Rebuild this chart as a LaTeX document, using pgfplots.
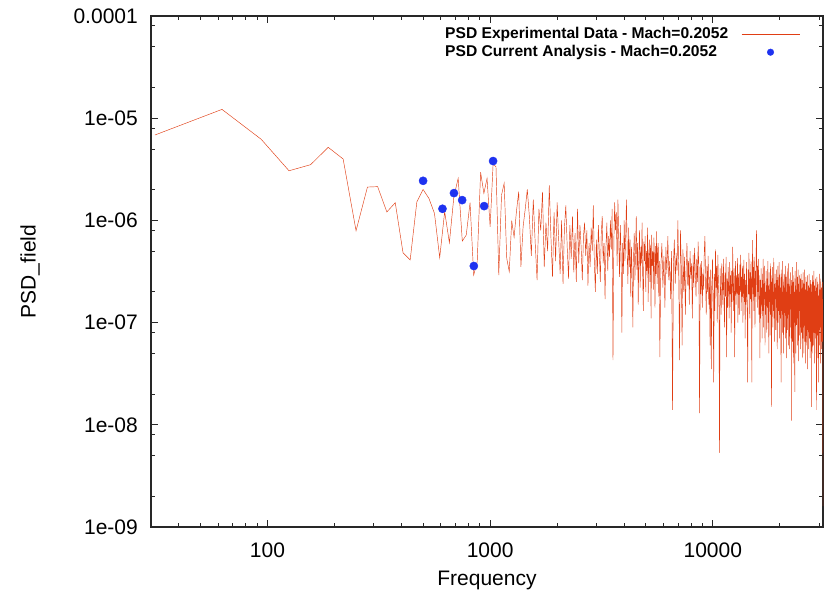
\documentclass[border=0pt]{standalone}
\usepackage{pgfplots}
\pgfplotsset{compat=1.18}
\usepackage{pgfplotstable}
\usepackage{fontspec}
\setmainfont{Liberation Sans}
\definecolor{psdred}{RGB}{224,62,20}
\definecolor{psdblue}{RGB}{30,50,240}
\definecolor{axgray}{RGB}{40,40,40}
\pgfplotsset{
  leglinelong/.style={legend image code/.code={\draw[##1] (0pt,0pt) -- (58pt,0pt);}},
  legdot/.style={legend image code/.code={\draw[##1, mark size=3.3pt] plot coordinates {(29pt,0pt)};}},
}

% experimental PSD: bin index k (f = 31.25 k Hz) and PSD value
\pgfplotstableread{
k psd
1 6.85e-6
2 1.22e-5
3 6.22e-6
4 3.06e-6
5 3.51e-6
6 5.19e-6
7 3.99e-6
8 7.93e-7
9 2.12e-6
10 2.14e-6
11 1.21e-6
12 1.49e-6
13 4.83e-7
14 4.10e-7
15 1.52e-6
16 2.01e-6
17 1.64e-6
18 1.17e-6
19 4.32e-7
20 1.22e-6
21 6.05e-7
22 1.71e-6
23 2.58e-6
24 6.28e-7
25 7.19e-7
26 1.49e-6
27 2.92e-7
28 3.95e-7
29 2.96e-6
30 1.84e-6
31 2.58e-6
32 8.67e-7
33 3.56e-6
34 3.35e-6
35 2.92e-7
36 1.77e-6
37 2.31e-6
38 4.26e-7
39 3.15e-7
40 9.93e-7
41 6.84e-7
42 1.22e-6
43 1.91e-6
44 3.52e-7
45 8.67e-7
46 1.29e-6
47 2.01e-6
48 1.1e-6
49 4.5e-7
50 1.6e-6
51 6.0e-7
52 2.6e-7
53 1.3e-6
54 8.0e-7
55 1.9e-6
56 3.5e-7
57 9.5e-7
58 5.0e-7
59 2.2e-6
60 7.0e-7
61 2.8e-7
62 1.2e-6
63 4.0e-7
64 1.5e-6
65 6.5e-7
66 3.0e-7
67 1.0e-6
68 2.4e-7
69 8.5e-7
70 1.4e-6
71 5.5e-7
72 2.7e-7
73 9.0e-7
74 4.2e-7
75 1.1e-6
76 3.1e-7
77 7.5e-7
78 2.5e-7
79 1.3e-6
80 3.8e-7
81 9.0e-7
82 5.5e-7
83 2.6e-7
84 7.0e-7
85 9.5e-7
86 4.5e-7
87 8.0e-7
88 2.3e-7
89 6.0e-7
90 3.5e-7
91 8.5e-7
92 5.0e-7
93 1.4e-6
94 4.0e-7
95 2.0e-7
96 6.5e-7
97 3.0e-7
98 9.0e-7
99 4.8e-7
100 2.5e-7
101 7.5e-7
102 1.1e-6
103 3.8e-7
104 6.0e-7
105 1.7e-7
106 5.5e-7
107 9.5e-7
108 3.2e-7
109 7.0e-7
110 4.4e-7
111 1.0e-6
112 5.2e-7
113 1.3e-6
114 4.3e-8
115 6.0e-7
116 1.5e-6
117 8.0e-7
118 1.2e-6
119 3.6e-7
120 1.6e-6
121 6.5e-7
122 2.8e-7
123 9.0e-7
124 4.5e-7
125 8.0e-8
126 6.0e-7
127 3.0e-7
128 1.0e-6
129 4.0e-7
130 7.0e-7
131 1.6e-6
132 5.0e-7
133 2.4e-7
134 8.5e-7
135 3.5e-7
136 6.5e-7
137 1.8e-7
138 5.5e-7
139 3.0e-7
140 9.0e-8
141 4.2e-7
142 7.5e-7
143 2.6e-7
144 5.0e-7
145 1.1e-6
146 3.3e-7
147 6.0e-7
148 1.5e-7
149 4.6e-7
150 8.0e-7
151 2.2e-7
152 5.5e-7
153 3.8e-7
154 9.5e-7
155 2.9e-7
156 1.3e-7
157 6.2e-7
158 4.0e-7
159 7.0e-7
160 2.0e-7
161 5.0e-7
162 3.2e-7
163 8.5e-7
164 1.6e-7
165 4.5e-7
166 6.5e-7
167 2.5e-7
168 5.8e-7
169 1.1e-7
170 7.2e-7
171 3.6e-7
172 5.0e-7
173 2.1e-7
174 6.8e-7
175 4.2e-7
176 1.4e-7
177 5.6e-7
178 3.0e-7
179 7.8e-7
180 2.4e-7
181 4.8e-7
182 6.0e-7
183 1.8e-7
184 4.0e-7
185 4.6e-8
187 3.5e-7
189 6.0e-7
191 2.2e-7
193 4.5e-7
195 1.4e-7
197 5.5e-7
199 3.0e-7
201 7.0e-7
203 2.6e-7
205 4.0e-7
207 1.7e-7
209 5.0e-7
211 1.4e-8
213 3.8e-7
215 6.5e-7
217 2.4e-7
219 4.8e-7
221 3.2e-7
223 1.0e-6
225 2.8e-7
227 4.3e-8
229 8.0e-7
231 3.6e-7
233 6.0e-8
235 5.2e-7
237 2.0e-7
239 4.4e-7
241 1.2e-7
243 3.4e-7
245 6.0e-7
247 2.3e-7
249 4.0e-7
251 1.5e-7
253 5.0e-7
255 2.7e-7
257 3.8e-7
259 1.1e-7
261 4.6e-7
263 2.2e-7
265 5.4e-7
267 3.0e-7
269 1.8e-7
271 4.2e-7
273 2.5e-7
275 6.2e-7
277 3.3e-7
279 1.3e-8
281 3.8e-7
283 1.9e-7
285 4.0e-7
287 1.4e-7
289 3.0e-7
291 2.1e-7
293 5.0e-7
295 7.0e-7
297 2.5e-7
299 1.2e-7
301 3.6e-7
303 2.0e-7
305 4.5e-7
307 1.5e-7
309 2.8e-7
311 6.0e-8
313 3.3e-7
315 3.5e-8
317 2.4e-7
319 4.2e-7
321 1.7e-7
323 2.6e-8
325 3.0e-7
327 1.3e-7
329 5.2e-7
331 2.2e-7
333 3.6e-7
335 1.0e-7
337 4.6e-7
339 2.6e-7
341 1.6e-7
343 5.3e-9
345 3.4e-7
347 2.0e-7
349 1.2e-7
351 3.8e-7
353 2.4e-7
355 1.5e-7
357 4.2e-7
359 2.0e-7
361 9.0e-8
363 3.1e-7
365 1.8e-7
367 4.4e-7
369 4.6e-8
371 2.7e-7
373 1.4e-7
375 3.5e-7
377 2.2e-7
379 1.1e-7
381 3.9e-7
383 1.9e-7
385 2.9e-7
387 8.0e-8
389 3.2e-7
391 1.6e-7
393 5.5e-7
395 2.4e-7
397 1.3e-7
399 3.4e-7
401 4.6e-8
403 2.6e-7
405 4.0e-7
407 1.5e-7
409 2.9e-7
411 1.9e-7
413 4.3e-7
415 1.0e-7
417 3.0e-7
419 2.1e-7
421 1.2e-7
423 3.7e-7
425 2.0e-7
427 4.6e-7
429 1.3e-7
431 2.8e-7
433 1.8e-7
435 3.6e-7
437 1.0e-7
439 2.4e-7
441 4.1e-7
443 1.6e-7
445 3.0e-7
447 7.0e-8
449 2.6e-7
451 1.5e-7
453 3.9e-7
455 2.1e-7
457 1.2e-7
459 2.6e-8
461 3.3e-7
463 1.9e-7
465 4.8e-7
467 2.3e-7
469 1.1e-7
471 3.1e-7
473 1.7e-7
475 4.0e-7
477 2.2e-7
479 2.6e-8
481 2.8e-7
483 6.4e-7
485 1.9e-7
487 3.5e-7
489 1.3e-7
491 4.4e-7
493 2.4e-7
495 9.0e-8
497 3.2e-7
499 1.8e-7
501 5.0e-7
503 8.0e-7
505 2.5e-7
507 1.4e-7
509 3.6e-7
511 2.0e-7
513 4.2e-7
515 1.2e-7
517 2.9e-7
519 1.7e-7
521 4.5e-8
523 2.6e-7
525 1.1e-7
527 3.4e-7
529 1.5e-7
531 2.2e-7
533 7.0e-8
535 3.0e-7
537 1.3e-7
539 4.2e-7
541 9.0e-8
543 2.4e-7
545 1.7e-7
547 3.6e-7
549 6.0e-8
551 2.0e-7
553 1.2e-7
555 3.2e-7
557 1.9e-7
559 8.0e-8
561 2.7e-7
563 1.4e-7
565 4.0e-7
567 1.0e-7
569 2.3e-7
571 5.0e-8
573 3.1e-7
575 1.6e-7
577 2.1e-7
579 7.5e-8
581 3.8e-7
583 1.2e-7
585 2.5e-7
587 1.5e-8
589 2.9e-7
591 1.5e-7
593 3.5e-7
595 9.0e-8
597 2.0e-7
599 1.3e-7
601 4.3e-7
603 1.1e-7
605 2.4e-7
607 6.5e-8
609 3.0e-7
611 1.7e-7
613 2.2e-7
615 8.5e-8
617 3.3e-7
619 1.4e-7
621 2.6e-7
623 5.5e-8
625 1.9e-7
627 3.6e-7
629 1.0e-7
631 2.3e-7
633 1.3e-7
635 3.9e-7
637 7.0e-8
639 2.1e-7
641 3.0e-7
643 1.1e-7
645 2.2e-7
647 6.0e-8
649 2.6e-8
651 3.3e-7
653 1.4e-7
655 2.0e-7
657 8.0e-8
659 4.0e-7
661 1.2e-7
663 2.5e-7
665 5.0e-8
667 1.8e-7
669 3.0e-7
671 9.0e-8
673 2.2e-7
675 1.3e-7
677 3.6e-7
679 7.0e-8
681 1.6e-7
683 2.8e-7
685 4.5e-8
687 2.0e-7
689 1.1e-7
691 3.4e-7
693 8.5e-8
695 1.7e-7
697 2.4e-7
699 6.0e-8
701 3.8e-7
703 1.2e-7
705 2.0e-7
707 5.5e-8
709 2.7e-7
711 1.4e-7
713 3.1e-7
715 9.0e-8
717 1.9e-7
719 7.0e-8
721 2.6e-7
723 1.1e-8
725 2.3e-7
727 1.0e-7
729 3.5e-7
731 6.5e-8
733 1.6e-7
735 2.5e-7
737 4.0e-8
739 2.9e-7
741 1.2e-7
743 2.0e-7
745 8.0e-8
747 2.1e-8
749 3.2e-7
751 1.3e-7
753 2.3e-7
755 5.0e-8
757 1.7e-7
759 3.9e-7
761 9.5e-8
763 2.1e-7
765 1.1e-7
767 2.8e-7
769 6.0e-8
771 1.8e-7
773 3.3e-7
775 1.0e-7
777 4.2e-8
779 2.4e-7
781 1.3e-7
783 2.9e-7
785 7.5e-8
787 2.0e-7
789 9.0e-8
791 2.7e-7
793 5.5e-8
795 1.5e-7
797 3.0e-7
799 8.0e-8
801 1.8e-7
803 1.1e-7
805 2.6e-7
807 4.5e-8
809 1.6e-7
811 2.2e-7
813 7.0e-8
815 3.1e-7
817 1.0e-7
819 1.7e-7
821 5.0e-8
823 2.4e-7
825 1.2e-7
827 3.3e-7
829 6.5e-8
831 1.4e-7
833 2.1e-7
835 4.0e-8
837 2.8e-7
839 9.5e-8
841 1.6e-7
843 6.0e-8
845 2.5e-7
847 1.1e-7
849 1.9e-7
851 3.5e-8
853 2.9e-7
855 8.5e-8
857 1.5e-7
859 2.3e-7
861 5.5e-8
863 1.8e-7
865 1.0e-7
867 3.0e-7
869 7.0e-8
871 1.3e-7
873 2.2e-7
875 4.5e-8
877 2.6e-7
879 1.1e-7
881 1.7e-7
883 6.5e-8
885 2.4e-7
887 9.0e-8
889 1.5e-8
891 2.0e-7
893 1.2e-7
895 2.9e-7
897 5.0e-8
899 1.6e-7
901 9.5e-8
903 2.5e-7
905 6.0e-8
907 1.4e-7
909 3.2e-7
911 8.0e-8
913 1.8e-7
915 4.0e-8
917 2.3e-7
919 1.1e-7
921 1.6e-7
923 7.0e-8
925 2.7e-7
927 1.0e-7
929 1.9e-7
931 5.0e-8
933 2.2e-7
935 1.4e-8
937 1.3e-7
939 2.8e-7
941 7.5e-8
943 1.5e-7
945 1.0e-7
947 2.5e-7
949 4.5e-8
951 1.7e-7
953 1.2e-7
955 2.6e-8
957 2.4e-7
959 8.5e-8
961 1.5e-7
963 3.0e-7
965 6.0e-8
967 1.9e-7
969 1.1e-7
971 2.1e-7
973 4.0e-8
975 1.6e-7
977 2.7e-7
979 9.0e-8
981 1.4e-7
983 5.5e-8
985 2.2e-7
987 1.0e-7
989 1.8e-7
991 6.5e-8
993 2.5e-7
995 1.2e-7
997 1.7e-7
999 8.0e-8
1000 1.6e-9
}\expdata

\pgfplotstableread{
f psd
500 2.44e-6
611 1.30e-6
688 1.85e-6
749 1.58e-6
845 3.58e-7
940 1.38e-6
1031 3.81e-6
}\anadata

\begin{document}
\begin{tikzpicture}
\useasboundingbox (0,0) rectangle (825pt,598pt);
\begin{axis}[
  at={(151pt,71pt)}, anchor=south west,
  scale only axis, width=672pt, height=511pt,
  xmode=log, ymode=log,
  xmin=30, xmax=31250, ymin=1e-9, ymax=1e-4,
  xtick={100,1000,10000}, xticklabels={100,1000,10000},
  minor xtick={40,50,60,70,80,90,200,300,400,500,600,700,800,900,2000,3000,4000,5000,6000,7000,8000,9000,20000,30000},
  ytick={1e-9,1e-8,1e-7,1e-6,1e-5,1e-4},
  yticklabels={1e-09,1e-08,1e-07,1e-06,1e-05,0.0001},
  minor ytick={2e-9,5e-9,8e-9,2e-8,5e-8,8e-8,2e-7,5e-7,8e-7,2e-6,5e-6,8e-6,2e-5,5e-5,8e-5},
  tick align=inside,
  major tick length=7pt, minor tick length=4pt,
  axis line style={axgray, line width=1.1pt},
  every tick/.style={axgray, line width=0.9pt},
  ticklabel style={font=\fontsize{21}{25}\selectfont},
  xticklabel style={inner sep=0pt, anchor=north, yshift=-16pt},
  yticklabel style={inner sep=0pt, anchor=east, xshift=-13pt},
  xlabel={Frequency}, ylabel={PSD\_field},
  label style={font=\fontsize{21}{25}\selectfont},
  xlabel style={at={(axis description cs:0.5,-0.1037)}, anchor=center},
  ylabel style={at={(axis description cs:-0.18,0.5)}, anchor=center},
  legend style={draw=none, fill=none, at={(0.4375,0.978)}, anchor=north west,
    inner sep=0pt, font=\fontsize{15.6}{18}\selectfont\bfseries, row sep=3pt, column sep=13pt,
    nodes={inner sep=0pt, text height=11.5pt, text depth=3pt}},
  legend cell align=left,
  legend plot pos=right,
]
\addplot[psdred, line width=0.45pt, leglinelong]
  table[x expr=\thisrow{k}*31.25, y=psd] {\expdata};
\addlegendentry{PSD Experimental Data - Mach=0.2052}
\addplot[only marks, mark=*, mark size=4.1pt, psdblue, legdot]
  table[x=f, y=psd] {\anadata};
\addlegendentry{PSD Current Analysis - Mach=0.2052}
\end{axis}
\end{tikzpicture}
\end{document}
